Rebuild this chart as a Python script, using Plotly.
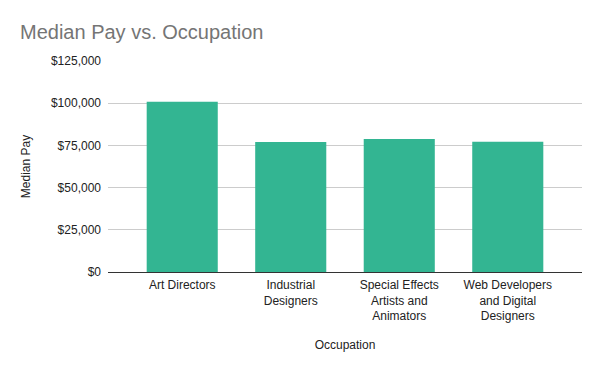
import plotly.graph_objects as go

categories = ["Art Directors", "Industrial<br>Designers", "Special Effects<br>Artists and<br>Animators", "Web Developers<br>and Digital<br>Designers"]
median_pay = [100890, 77030, 78790, 77200]
tick_vals = [0, 25000, 50000, 75000, 100000, 125000]
tick_text = ["$0", "$25,000", "$50,000", "$75,000", "$100,000", "$125,000"]

fig = go.Figure(go.Bar(x=categories, y=median_pay, marker=dict(color="#33b592", line=dict(width=0)), width=0.655))

fig.update_layout(
    width=600, height=371,
    margin=dict(l=100, r=26, t=53, b=107),
    paper_bgcolor="white", plot_bgcolor="white",
    font=dict(family="Liberation Sans, Arial", size=12, color="#222222"),
    title=dict(text="Median Pay vs. Occupation", x=0.02, xanchor="left", y=0.935, yanchor="middle",
               font=dict(size=20, color="#757575")),
    showlegend=False,
)
fig.update_xaxes(range=[-0.684, 3.684], showgrid=False, ticks="", tickfont=dict(size=12, color="#222222"),
                 ticklabelstandoff=4,
                 title=dict(text="Occupation", font=dict(size=12, color="#222222"), standoff=18))
fig.update_yaxes(range=[0, 125000], tickvals=tick_vals, ticktext=tick_text, showgrid=True, gridcolor="#cccccc",
                 zeroline=True, zerolinecolor="#333333", zerolinewidth=1.2, ticks="", ticklabelstandoff=6,
                 title=dict(text="Median Pay", font=dict(size=12, color="#222222"), standoff=17))

fig.write_html("out.html")
